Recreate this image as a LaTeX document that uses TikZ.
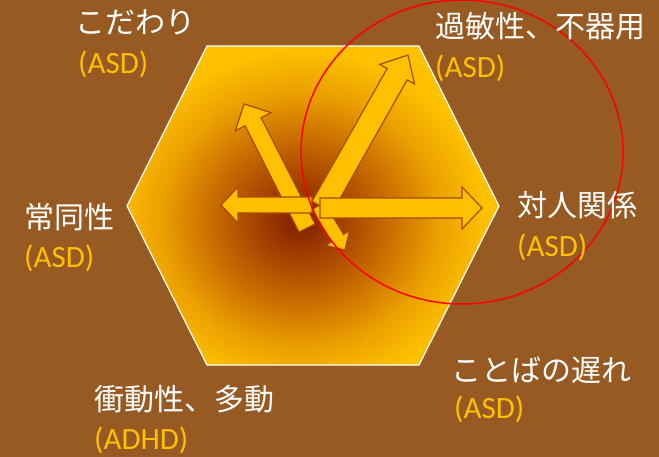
\documentclass[tikz,border=0pt]{standalone}
\usepackage{fontspec}
\newfontfamily\jpfont{Noto Sans CJK JP}
\newfontfamily\latfont{Carlito}
\definecolor{bgbrown}{RGB}{150,90,34}
\definecolor{hexdark}{RGB}{136,38,0}
\definecolor{hexq}{RGB}{168,68,0}
\definecolor{hexmid}{RGB}{203,112,0}
\definecolor{hexl}{RGB}{235,160,0}
\definecolor{hexgold}{RGB}{255,192,0}
\definecolor{arrowfill}{RGB}{255,192,0}
\definecolor{arrowline}{RGB}{165,75,10}
\definecolor{asdgold}{RGB}{255,192,0}
\pgfdeclareradialshading{hexshade}{\pgfpoint{0bp}{0bp}}{color(0bp)=(hexdark); color(1.5bp)=(hexdark); color(6.25bp)=(hexq); color(12.5bp)=(hexmid); color(18.75bp)=(hexl); color(25bp)=(hexgold); color(50bp)=(hexgold)}
\newcommand\blockarrow[8]{% name, x, y, angle, L, w, H, h
  \begin{scope}[shift={(#2,#3)}, rotate=#4]
    \draw[barrow] (0,-#6) -- (#5-#8,-#6) -- (#5-#8,-#7) -- (#5,0) -- (#5-#8,#7) -- (#5-#8,#6) -- (0,#6) -- cycle;
    \coordinate (#1) at (#5,0);
  \end{scope}}
\tikzset{
  barrow/.style={fill=arrowfill, draw=arrowline, line width=1.2pt, line join=miter},
  jplabel/.style={anchor=west, inner sep=0pt, text=white, font=\jpfont\fontsize{30}{34}\selectfont},
  asdlabel/.style={anchor=west, inner sep=0pt, text=asdgold, font=\latfont\fontsize{31}{36}\selectfont},
}
\begin{document}
\begin{tikzpicture}[x=1pt,y=-1pt]
  \fill[bgbrown] (0,0) rectangle (659,457);
  \useasboundingbox (0,0) rectangle (659,457);
  % hexagon
  \coordinate (h1) at (207,46);
  \coordinate (h2) at (419,46);
  \coordinate (h3) at (499,206);
  \coordinate (h4) at (419,365);
  \coordinate (h5) at (207,365);
  \coordinate (h6) at (127,206);
  \begin{scope}
    \clip (h1) -- (h2) -- (h3) -- (h4) -- (h5) -- (h6) -- cycle;
    \fill[hexgold] (100,30) rectangle (520,380);
    \shade[shading=hexshade] (115,50) rectangle (485,390);
  \end{scope}
  \draw[white, line width=1.2pt, line join=miter] (h1) -- (h2) -- (h3) -- (h4) -- (h5) -- (h6) -- cycle;
  % arrows
  \blockarrow{tipA}{307}{228}{116.9}{139.1}{9}{20}{20}
  \blockarrow{tipE}{318}{206}{-58.5}{51.6}{7}{14}{14}
  \blockarrow{tipC}{312}{205}{180}{91}{8}{18}{17}
  \blockarrow{tipB}{322}{207}{60.5}{174.6}{11.5}{20}{22}
  \blockarrow{tipD}{320}{208}{0}{162}{10}{21}{20}
  % red circle
  \coordinate (rc) at (462,152);
  \draw[red, line width=1.5pt] (rc) ellipse [x radius=161, y radius=152];
  % labels
  \node[jplabel] (l1) at (75,22.5) {こだわり};
  \node[asdlabel] (a1) at (78,64) {(ASD)};
  \node[jplabel] (l2) at (435,26.5) {過敏性、不器用};
  \node[asdlabel] (a2) at (435,68) {(ASD)};
  \node[jplabel] (l3) at (24,217) {常同性};
  \node[asdlabel] (a3) at (24,258) {(ASD)};
  \node[jplabel] (l4) at (517,205) {対人関係};
  \node[asdlabel] (a4) at (517,247) {(ASD)};
  \node[jplabel] (l5) at (94,399) {衝動性、多動};
  \node[asdlabel] (a5) at (94,440) {(ADHD)};
  \node[jplabel] (l6) at (451,370) {ことばの遅れ};
  \node[asdlabel] (a6) at (454,409) {(ASD)};
\end{tikzpicture}
\end{document}
